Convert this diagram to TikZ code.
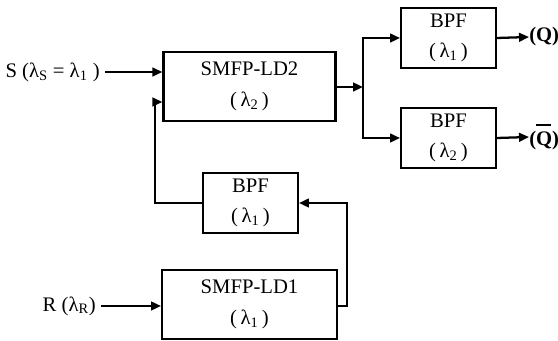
\documentclass[tikz,border=0pt]{standalone}
\usepackage{fontspec}
\setmainfont{Liberation Serif}
\usetikzlibrary{arrows.meta}
\begin{document}
\begin{tikzpicture}[x=0.75pt,y=-0.75pt,
  blk/.style={draw,line width=1.7pt,minimum width=#1,inner sep=0pt,align=center,font=\fontsize{15.5}{23}\selectfont},
  blk/.default=71,
  lbl/.style={inner sep=0pt,font=\fontsize{15.5}{18}\selectfont},
  arr/.style={line width=1.7pt,-{Triangle[length=7.5pt,width=6.5pt]}}]
\useasboundingbox (0,0) rectangle (558,341);
% blocks
\node[blk=129, minimum height=69*0.75pt] (ld2) at (249.5,86.5) {SMFP-LD2\\(\,λ\textsubscript{2}\,)};
\node[blk, minimum height=60*0.75pt] (bpf1) at (448.5,38) {BPF\\(\,λ\textsubscript{1}\,)};
\node[blk, minimum height=60*0.75pt] (bpf2) at (448.5,138) {BPF\\(\,λ\textsubscript{2}\,)};
\node[blk, minimum height=60*0.75pt] (bpf3) at (250.5,203) {BPF\\(\,λ\textsubscript{1}\,)};
\node[blk=131, minimum height=69*0.75pt] (ld1) at (249.5,304.5) {SMFP-LD1\\(\,λ\textsubscript{1}\,)};
% labels
\node[lbl, anchor=east] (s) at (100,72) {S (λ\textsubscript{S} = λ\textsubscript{1} )};
\node[lbl, anchor=east] (r) at (96,306) {R (λ\textsubscript{R})};
\node[lbl, anchor=west] (q) at (529,37) {\textbf{(Q)}};
\node[lbl, anchor=west] (qb) at (529,137) {\textbf{(}\rlap{\raisebox{14.5pt}{\rule{0.72em}{2pt}}}\textbf{Q)}};
% junction and bends
\coordinate (j) at (363,87);
\coordinate (fb) at (155,102);
\coordinate (rr) at (347,306);
% connectors
\draw[arr] ([xshift=4pt]s.east) -- (s.east -| ld2.west);
\draw[arr] (ld2.east |- j) -- (j);
\draw[arr] (j) |- (bpf1.west);
\draw[arr] (j) |- (bpf2.west);
\draw[arr] (bpf1.east) -- (q.west);
\draw[arr] (bpf2.east) -- (qb.west);
\draw[arr] ([xshift=4pt]r.east) -- (r.east -| ld1.west);
\draw[arr] (ld1.east |- rr) -- (rr) |- (bpf3.east);
\draw[arr] (bpf3.west) -| (fb) -- (fb -| ld2.west);
\end{tikzpicture}
\end{document}
